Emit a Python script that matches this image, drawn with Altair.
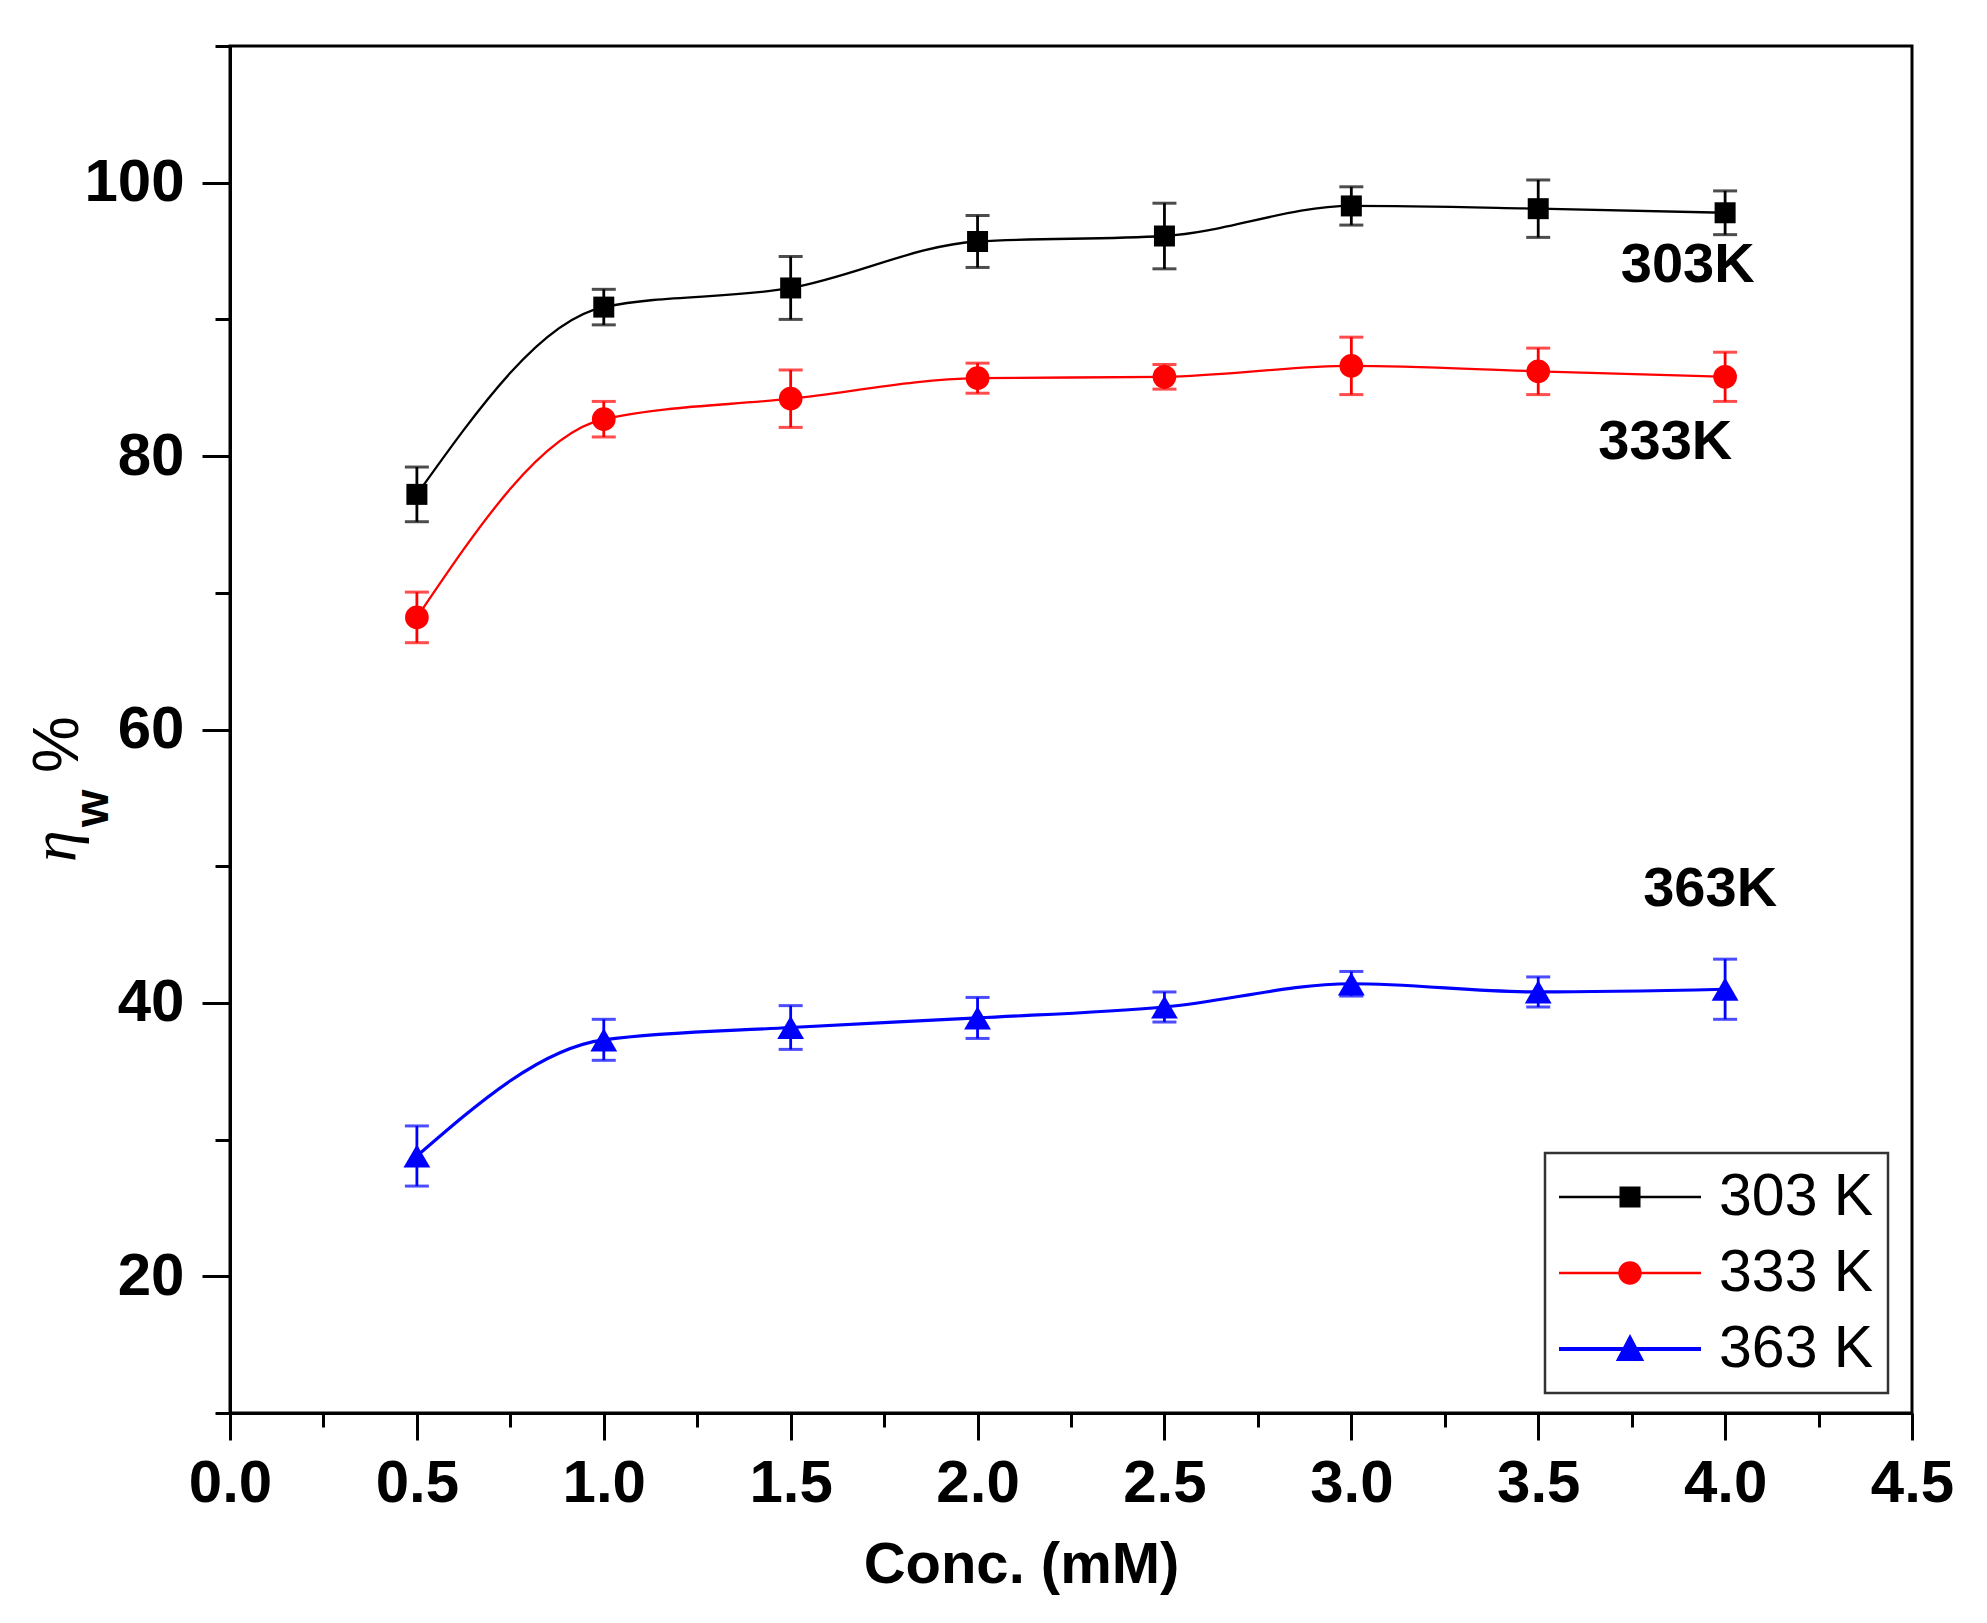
import altair as alt
import pandas as pd

# ---------------- data ----------------
conc = [0.5, 1.0, 1.5, 2.0, 2.5, 3.0, 3.5, 4.0]
series = ["303 K", "333 K", "363 K"]
colors = ["#000000", "#ff0000", "#0000ff"]

eta_303 = [77.2, 90.9, 92.3, 95.7, 96.1, 98.3, 98.1, 97.8]
err_303 = [2.0, 1.3, 2.3, 1.9, 2.4, 1.4, 2.1, 1.6]
eta_333 = [68.2, 82.7, 84.2, 85.7, 85.8, 86.6, 86.2, 85.8]
err_333 = [1.85, 1.3, 2.1, 1.1, 0.9, 2.1, 1.7, 1.8]
eta_363 = [28.8, 37.3, 38.2, 38.9, 39.7, 41.4, 40.8, 41.0]
err_363 = [2.2, 1.5, 1.6, 1.5, 1.1, 0.9, 1.1, 2.2]

ann_text = ["303K", "333K", "363K"]
ann_x = [3.90, 3.84, 3.96]
ann_y = [94.0, 81.0, 48.3]

x_ticks = [i * 0.25 for i in range(19)]
y_ticks = list(range(10, 111, 10))

rows = []
for name, ys, es in zip(series, [eta_303, eta_333, eta_363], [err_303, err_333, err_363]):
    for c, v, e in zip(conc, ys, es):
        rows.append({"conc": c, "eta": v, "lo": v - e, "hi": v + e, "series": name})
df = pd.DataFrame(rows)
ann = pd.DataFrame({"text": ann_text, "x": ann_x, "y": ann_y})

FONT = "Liberation Sans"

xscale = alt.Scale(domain=[0, 4.5], nice=False, zero=False)
yscale = alt.Scale(domain=[10, 110], nice=False, zero=False)

x_axis = alt.Axis(
    values=x_ticks,
    labelExpr="(round(datum.value*4) % 2 == 0) ? format(datum.value, '.1f') : ''",
    tickSize={"condition": {"test": "round(datum.value*4) % 2 != 0", "value": 14}, "value": 27},
    labelPadding=14,
    title="Conc. (mM)",
    titleFont=FONT, titleFontSize=58, titleFontWeight="bold", titleColor="black",
    titleX=791, titleY=169, titleBaseline="alphabetic", titleAlign="center", titleAnchor="start",
)
y_axis = alt.Axis(
    values=y_ticks,
    labelExpr="(datum.value % 20 == 0 && datum.value >= 20 && datum.value <= 100) ? datum.label : ''",
    tickSize={"condition": {"test": "datum.value % 20 != 0", "value": 15}, "value": 28},
    labelPadding=18,
    title=None,
)

X = alt.X("conc:Q", scale=xscale, axis=x_axis)
Y = alt.Y("eta:Q", scale=yscale, axis=y_axis)

base = alt.Chart(df)

shapes = ["square", "circle", "triangle-up"]
sizes = [441, 560, 720]
line_widths = [2.3, 2.3, 3.2]

layers = []
for name, col, shp, sz, lw in zip(series, colors, shapes, sizes, line_widths):
    sub = base.transform_filter(alt.datum.series == name)
    layers.append(
        sub.mark_line(interpolate="monotone", color=col, strokeWidth=lw).encode(x=X, y=Y)
    )
    layers.append(
        sub.mark_rule(color=col, strokeWidth=2.8).encode(x="conc:Q", y="lo:Q", y2="hi:Q")
    )
    layers.append(
        sub.mark_tick(orient="horizontal", thickness=3, size=24, color=col).encode(x="conc:Q", y="hi:Q")
    )
    layers.append(
        sub.mark_tick(orient="horizontal", thickness=3, size=24, color=col).encode(x="conc:Q", y="lo:Q")
    )
    layers.append(
        sub.mark_point(filled=True, shape=shp, size=sz, opacity=1, strokeWidth=0, color=col)
        .encode(x="conc:Q", y="eta:Q")
    )

# legend symbols: a line segment with the marker on it
legend_paths = [
    "M-1,-0.018H1V0.018H-1Z M-0.148,-0.148H0.148V0.148H-0.148Z",
    "M-1,-0.018H1V0.018H-1Z M-0.165,0A0.165,0.165,0,1,1,0.165,0A0.165,0.165,0,1,1,-0.165,0Z",
    "M-1,-0.028H1V0.028H-1Z M0,-0.21L0.2,0.17L-0.2,0.17Z",
]
leg = alt.Legend(
    title=None, orient="none", legendX=1315, legendY=1107,
    symbolSize=20164, symbolStrokeWidth=0, symbolOpacity=1,
    labelFont=FONT, labelFontSize=59, labelColor="black", labelOffset=18,
    labelLimit=400, rowPadding=16, padding=14, clipHeight=60,
    strokeColor="#333333", fillColor="white",
)
legend_layer = base.mark_point(filled=True, opacity=0).encode(
    x="conc:Q", y="eta:Q",
    color=alt.Color("series:N", scale=alt.Scale(domain=series, range=colors), legend=leg),
    shape=alt.Shape("series:N", scale=alt.Scale(domain=series, range=legend_paths), legend=leg),
)

annot = alt.Chart(ann).mark_text(
    font=FONT, fontSize=56, fontWeight="bold", color="black", align="center", baseline="middle"
).encode(x=alt.X("x:Q", scale=xscale), y=alt.Y("y:Q", scale=yscale), text="text:N")

# y-axis title: eta (italic) with subscript w, then %
ytitle_parts = ["η", "w", "%"]
t_eta = alt.Chart(pd.DataFrame({"t": [ytitle_parts[0]]})).mark_text(
    font="Liberation Serif", fontStyle="italic", fontSize=64, angle=270, align="left", baseline="alphabetic", color="black"
).encode(text="t:N", x=alt.value(-155), y=alt.value(816))
t_w = alt.Chart(pd.DataFrame({"t": [ytitle_parts[1]]})).mark_text(
    font=FONT, fontWeight="bold", fontSize=48, angle=270, align="left", baseline="alphabetic", color="black"
).encode(text="t:N", x=alt.value(-122), y=alt.value(781))
t_pct = alt.Chart(pd.DataFrame({"t": [ytitle_parts[2]]})).mark_text(
    font=FONT, fontSize=64, angle=270, align="left", baseline="alphabetic", color="black"
).encode(text="t:N", x=alt.value(-152), y=alt.value(727))

chart = alt.layer(
    *layers, legend_layer, annot, t_eta, t_w, t_pct
).properties(
    width=1682, height=1367,
    autosize=alt.AutoSizeParams(type="none"),
    padding={"left": 222, "top": 38, "right": 67, "bottom": 202},
).configure_view(
    stroke="black", strokeWidth=3
).configure_axis(
    domainColor="black", domainWidth=3, tickColor="black", tickWidth=3,
    labelFont=FONT, labelFontSize=60, labelFontWeight="bold", labelColor="black",
    grid=False, labelOverlap=False, labelFlush=False, labelBound=False,
).configure_legend(
    strokeWidth=2.5
)

chart.save("out.html", embed_options={"renderer": "svg", "actions": False})
